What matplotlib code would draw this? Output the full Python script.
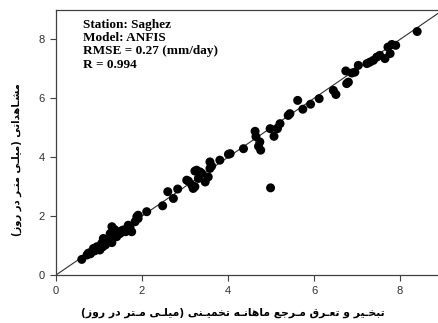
import matplotlib
matplotlib.use("Agg")
import matplotlib.pyplot as plt

# estimated (x) vs observed (y) monthly ET0, mm/day
estimated = [
    0.60, 0.72, 0.75, 0.80, 0.83, 0.87, 0.90, 0.95, 0.98, 1.02,
    1.02, 1.06, 1.08, 1.10, 1.15, 1.18, 1.22, 1.26, 1.26, 1.30,
    1.30, 1.35, 1.37, 1.41, 1.45, 1.49, 1.52, 1.57, 1.62, 1.68,
    1.68, 1.72, 1.76, 1.84, 1.88, 1.91, 1.91, 2.11, 2.48, 2.60,
    2.73, 2.83, 3.04, 3.08, 3.16, 3.19, 3.23, 3.23, 3.27, 3.31,
    3.35, 3.39, 3.47, 3.54, 3.58, 3.58, 3.62, 3.81, 4.01, 4.05,
    4.36, 4.63, 4.65, 4.71, 4.74, 4.76, 4.99, 4.98, 5.07, 5.15,
    5.21, 5.40, 5.44, 5.62, 5.74, 5.92, 6.12, 6.45, 6.51, 6.76,
    6.80, 6.74, 6.88, 6.95, 7.03, 7.23, 7.30, 7.38, 7.46, 7.53,
    7.65, 7.72, 7.77, 7.81, 7.90, 8.40,
]
observed = [
    0.53, 0.68, 0.74, 0.72, 0.79, 0.90, 0.82, 0.96, 0.88, 0.85,
    0.96, 1.07, 0.95, 1.24, 1.02, 1.13, 1.20, 1.19, 1.41, 1.64,
    1.10, 1.55, 1.53, 1.30, 1.38, 1.41, 1.50, 1.53, 1.47, 1.58,
    1.69, 1.62, 1.47, 1.81, 1.98, 2.03, 1.92, 2.15, 2.35, 2.83,
    2.60, 2.92, 3.22, 3.19, 3.05, 2.94, 3.00, 3.53, 3.56, 3.28,
    3.50, 3.45, 3.16, 3.33, 3.62, 3.84, 3.70, 3.90, 4.10, 4.12,
    4.29, 4.88, 4.70, 4.37, 4.52, 4.24, 2.96, 4.97, 4.71, 4.97,
    5.14, 5.42, 5.48, 5.93, 5.63, 5.80, 5.99, 6.27, 6.13, 6.50,
    6.55, 6.93, 6.86, 6.89, 7.12, 7.18, 7.23, 7.29, 7.40, 7.46,
    7.35, 7.74, 7.52, 7.83, 7.80, 8.27,
]
ticks = [0, 2, 4, 6, 8]
info_lines = ["Station: Saghez", "Model: ANFIS", "RMSE = 0.27 (mm/day)", "R = 0.994"]
xlabel_fa = "تبخـیر و تعـرق مـرجع ماهانـه تخمیـنی (میلـی مـتر در روز)"
ylabel_fa = "مشـاهداتی (میلـی متـر در روز)"

# contextual forms: isolated, final, initial, medial
FORMS = {
    "\u0627": ("\uFE8D", "\uFE8E", None, None),
    "\u0628": ("\uFE8F", "\uFE90", "\uFE91", "\uFE92"),
    "\u062A": ("\uFE95", "\uFE96", "\uFE97", "\uFE98"),
    "\u062C": ("\uFE9D", "\uFE9E", "\uFE9F", "\uFEA0"),
    "\u062E": ("\uFEA5", "\uFEA6", "\uFEA7", "\uFEA8"),
    "\u062F": ("\uFEA9", "\uFEAA", None, None),
    "\u0631": ("\uFEAD", "\uFEAE", None, None),
    "\u0632": ("\uFEAF", "\uFEB0", None, None),
    "\u0634": ("\uFEB5", "\uFEB6", "\uFEB7", "\uFEB8"),
    "\u0639": ("\uFEC9", "\uFECA", "\uFECB", "\uFECC"),
    "\u0642": ("\uFED5", "\uFED6", "\uFED7", "\uFED8"),
    "\u0644": ("\uFEDD", "\uFEDE", "\uFEDF", "\uFEE0"),
    "\u0645": ("\uFEE1", "\uFEE2", "\uFEE3", "\uFEE4"),
    "\u0646": ("\uFEE5", "\uFEE6", "\uFEE7", "\uFEE8"),
    "\u0647": ("\uFEE9", "\uFEEA", "\uFEEB", "\uFEEC"),
    "\u0648": ("\uFEED", "\uFEEE", None, None),
    "\u06CC": ("\uFBFC", "\uFBFD", "\uFBFE", "\uFBFF"),
    "\u0640": ("\u0640", "\u0640", "\u0640", "\u0640"),
}


def shape_rtl(text):
    # matplotlib has no Arabic shaping, so pick glyph forms and reverse by hand
    out = []
    for i, ch in enumerate(text):
        forms = FORMS.get(ch)
        if forms is None:
            out.append(ch)
            continue
        prev = text[i - 1] if i > 0 else None
        nxt = text[i + 1] if i + 1 < len(text) else None
        join_prev = prev in FORMS and FORMS[prev][2] is not None
        join_next = forms[2] is not None and nxt in FORMS
        if join_prev and join_next:
            out.append(forms[3])
        elif join_prev:
            out.append(forms[1])
        elif join_next:
            out.append(forms[2])
        else:
            out.append(forms[0])
    mirror = {"(": ")", ")": "("}
    return "".join(mirror.get(c, c) for c in reversed(out))


def fit_length(fig, txt, target_px, vertical=False):
    # scale the font so the label spans about as far as in the reference
    renderer = fig.canvas.get_renderer()
    bb = txt.get_window_extent(renderer)
    span = bb.height if vertical else bb.width
    txt.set_fontsize(txt.get_fontsize() * target_px / span)


fig = plt.figure(figsize=(4.38, 3.23), dpi=100)
ax = fig.add_axes([56 / 438, 48 / 323, 387 / 438, 265 / 323])

ax.plot([0, 9], [0, 9], color="#303030", lw=0.8, zorder=1)
ax.scatter(estimated, observed, s=42, color="black", edgecolors="none", zorder=2)

ax.set_xlim(0, 9)
ax.set_ylim(0, 9)
ax.set_xticks(ticks)
ax.set_yticks(ticks)
ax.tick_params(direction="out", length=4, width=0.8, color="#404040",
               labelsize=8, labelcolor="#303030", pad=4)
for lab in ax.get_xticklabels() + ax.get_yticklabels():
    lab.set_family("Liberation Sans")
for side in ["left", "bottom", "top"]:
    ax.spines[side].set_color("#404040")
    ax.spines[side].set_linewidth(0.9)
ax.spines["right"].set_visible(False)

ax.text(0.07, 0.965, "\n".join(info_lines), transform=ax.transAxes,
        ha="left", va="top", fontsize=9.5, fontweight="bold",
        family="Liberation Serif", linespacing=1.12)

xl = fig.text(233 / 438, 1 - 313 / 323, shape_rtl(xlabel_fa), ha="center", va="center",
              fontsize=8, fontweight="bold", family=["DejaVu Sans"])
yl = fig.text(17 / 438, 1 - 160 / 323, shape_rtl(ylabel_fa), ha="center", va="center",
              rotation=90, fontsize=8, fontweight="bold", family=["DejaVu Sans"])
fit_length(fig, xl, 303)
fit_length(fig, yl, 154, vertical=True)

fig.savefig("out.png", dpi=100)
